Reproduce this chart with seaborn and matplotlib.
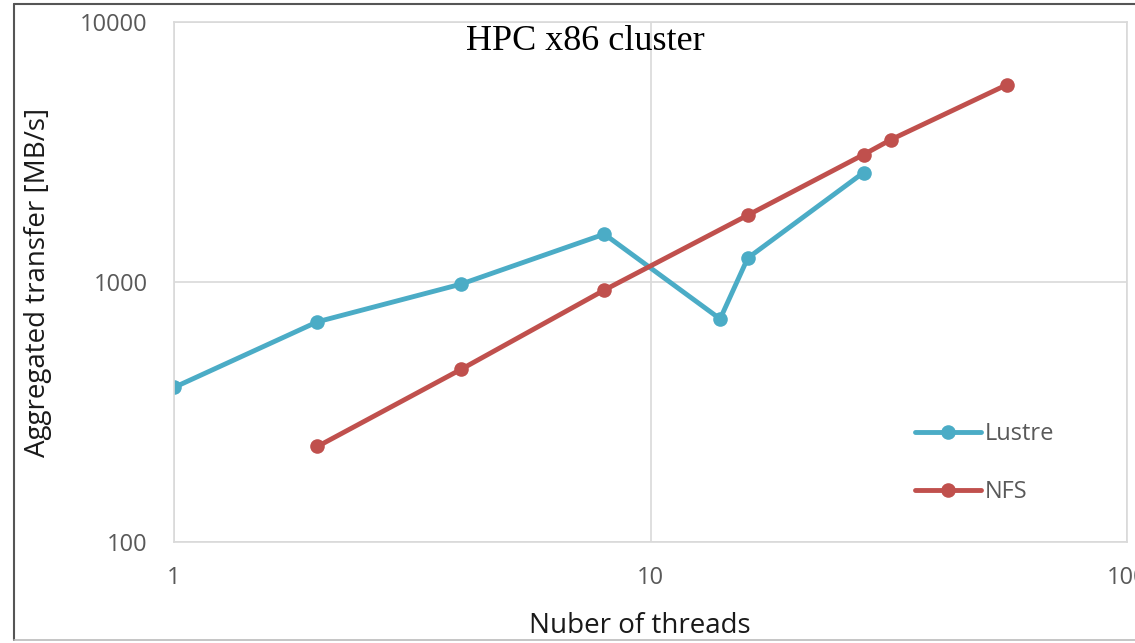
import matplotlib
matplotlib.use("Agg")
import matplotlib.pyplot as plt
from matplotlib.lines import Line2D
import seaborn as sns
import pandas as pd

# Data
lustre_threads = [1, 2, 4, 8, 14, 16, 28]
lustre_rate = [393, 703, 981, 1528, 721, 1236, 2636]
nfs_threads = [2, 4, 8, 16, 28, 32, 56]
nfs_rate = [233, 461, 931, 1807, 3090, 3532, 5740]
series_names = ["Lustre", "NFS"]
colors = {"Lustre": "#4BACC6", "NFS": "#C0504D"}

df = pd.concat([
    pd.DataFrame({"threads": lustre_threads, "rate": lustre_rate, "fs": "Lustre"}),
    pd.DataFrame({"threads": nfs_threads, "rate": nfs_rate, "fs": "NFS"}),
], ignore_index=True)

sns.set_theme(style="white")
plt.rcParams["font.family"] = ["Open Sans", "DejaVu Sans"]

W, H = 1135, 643
fig = plt.figure(figsize=(W / 100, H / 100), dpi=100)
ax = fig.add_axes([174 / W, 1 - 542 / H, (1127 - 174) / W, (542 - 22) / H])

sns.lineplot(data=df, x="threads", y="rate", hue="fs", hue_order=series_names,
             palette=colors, marker="o", markersize=10.5, markeredgewidth=0,
             linewidth=3.5, sort=False, ax=ax, legend=False)

ax.set_xscale("log")
ax.set_yscale("log")
ax.set_xlim(1, 100)
ax.set_ylim(100, 10000)
ax.set_xticks([1, 10, 100])
ax.set_xticklabels(["1", "10", "100"])
ax.set_yticks([100, 1000, 10000])
ax.set_yticklabels(["100", "1000", "10000"])
ax.minorticks_off()
ax.tick_params(axis="both", length=0, labelsize=17, colors="#595959")
ax.tick_params(axis="x", pad=17)
ax.tick_params(axis="y", pad=19)
ax.grid(True, color="#D9D9D9", linewidth=1.2)
for s in ax.spines.values():
    s.set_color("#D9D9D9")
    s.set_linewidth(1.2)

ax.set_xlabel("Nuber of threads", fontsize=20, color="#1a1a1a")
ax.set_ylabel("Aggregated transfer [MB/s]", fontsize=20, color="#1a1a1a")
ax.xaxis.set_label_coords((640 - 174) / 953, (542 - 612) / 520)
ax.yaxis.set_label_coords((52 - 174) / 953, 0.5)

fig.text(585 / W, 1 - 41 / H, "HPC x86 cluster", ha="center", va="center",
         fontsize=26, family=["Liberation Serif", "DejaVu Serif"], color="black")

handles = [Line2D([0], [0], color=colors[n], marker="o", markersize=10.5,
                  markeredgewidth=0, linewidth=3.5) for n in series_names]
leg = ax.legend(handles, series_names, loc="upper left",
                bbox_to_anchor=(915 / W, 1 - 422 / H), bbox_transform=fig.transFigure,
                frameon=False, fontsize=17, handlelength=2.8, handletextpad=0.15,
                labelspacing=1.45, borderaxespad=0, borderpad=0)
for t in leg.get_texts():
    t.set_color("#595959")

# figure border
fig.add_artist(Line2D([14 / W, 14 / W], [1 - 640 / H, 1 - 4 / H], color="#555555",
                      linewidth=1.5, transform=fig.transFigure))
fig.add_artist(Line2D([14 / W, 1], [1 - 4 / H, 1 - 4 / H], color="#555555",
                      linewidth=1.5, transform=fig.transFigure))
fig.add_artist(Line2D([14 / W, 1], [1 - 640 / H, 1 - 640 / H], color="#BBBBBB",
                      linewidth=1.2, transform=fig.transFigure))

fig.savefig("out.png", dpi=100)
